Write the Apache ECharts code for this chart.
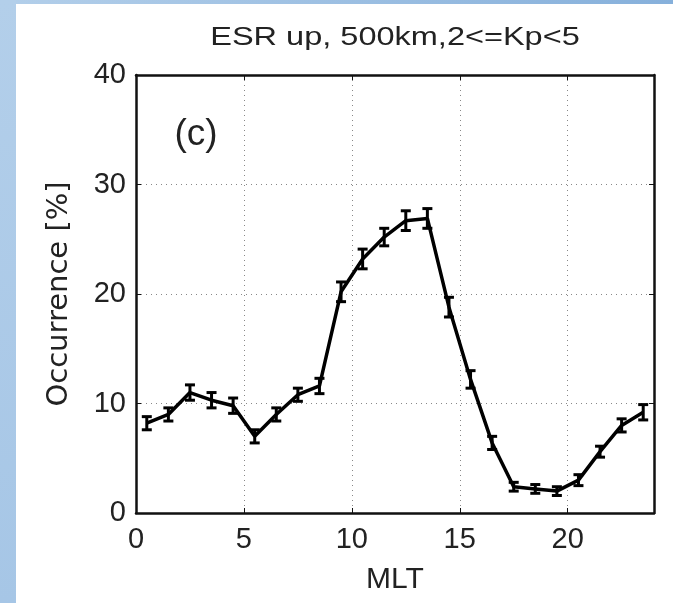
<!DOCTYPE html>
<html>
<head>
<meta charset="utf-8">
<script src="https://cdn.jsdelivr.net/npm/echarts@6/dist/echarts.min.js"></script>
<style>
  html, body { margin: 0; padding: 0; background: #fff; }
  #chart { width: 673px; height: 603px; }
</style>
</head>
<body>
<div id="chart"></div>
<script>
// MLT bins (hour centres) and occurrence values
let mltHours = [0.5, 1.5, 2.5, 3.5, 4.5, 5.5, 6.5, 7.5, 8.5, 9.5, 10.5, 11.5,
    12.5, 13.5, 14.5, 15.5, 16.5, 17.5, 18.5, 19.5, 20.5, 21.5, 22.5, 23.5];
let occurrence = [8.2, 9.0, 11.0, 10.3, 9.8, 7.0, 9.0, 10.8, 11.6, 20.2, 23.2, 25.2,
    26.7, 26.9, 18.8, 12.2, 6.4, 2.4, 2.2, 2.0, 3.0, 5.6, 8.0, 9.2];
let errBar = [0.6, 0.6, 0.7, 0.7, 0.7, 0.6, 0.6, 0.6, 0.7, 0.9, 0.9, 0.8,
    0.9, 0.9, 0.9, 0.8, 0.6, 0.4, 0.4, 0.4, 0.5, 0.5, 0.6, 0.7];
let xTicks = [0, 5, 10, 15, 20];
let yTicks = [0, 10, 20, 30, 40];

let myChart = echarts.init(document.getElementById("chart"));

let lineData = mltHours.map((h, i) => [h, occurrence[i]]);
let errData = mltHours.map((h, i) => [h, occurrence[i] - errBar[i], occurrence[i] + errBar[i]]);

let fontMain = '"Liberation Sans", Arial, sans-serif';

function renderErr(params, api) {
    let x = api.value(0);
    let lo = api.coord([x, api.value(1)]);
    let hi = api.coord([x, api.value(2)]);
    let w = 5;
    let style = { stroke: "#000", lineWidth: 3 };
    return {
        type: "group",
        children: [
            { type: "line", shape: { x1: lo[0], y1: lo[1], x2: hi[0], y2: hi[1] }, style: style },
            { type: "line", shape: { x1: lo[0] - w, y1: lo[1], x2: lo[0] + w, y2: lo[1] }, style: style },
            { type: "line", shape: { x1: hi[0] - w, y1: hi[1], x2: hi[0] + w, y2: hi[1] }, style: style },
        ],
    };
}

let gridSplit = { show: true, lineStyle: { color: "#888", type: [1, 4], width: 1 } };
let boxLine = { show: true, onZero: false, lineStyle: { color: "#111", width: 2.5 } };
let boxTick = { show: true, inside: true, length: 5, lineStyle: { color: "#111" } };

let option = {
    animation: false,
    backgroundColor: "#fff",
    textStyle: { fontFamily: fontMain },
    graphic: [
        {
            type: "rect",
            shape: { x: 0, y: 0, width: 673, height: 4 },
            style: {
                fill: new echarts.graphic.LinearGradient(0, 0, 1, 0, [
                    { offset: 0, color: "#b3cfea" },
                    { offset: 1, color: "#86b0db" },
                ]),
            },
            silent: true,
        },
        {
            type: "rect",
            shape: { x: 0, y: 0, width: 16, height: 603 },
            style: {
                fill: new echarts.graphic.LinearGradient(0, 0, 0, 1, [
                    { offset: 0, color: "#b3cfea" },
                    { offset: 1, color: "#a6c6e6" },
                ]),
            },
            silent: true,
        },
        {
            // title, drawn a bit wide like the stretched original
            type: "text",
            x: 395,
            y: 38,
            scaleX: 1.25,
            style: {
                text: "ESR up, 500km,2<=Kp<5",
                font: '26px "Liberation Sans", Arial, sans-serif',
                fill: "#222",
                align: "center",
                verticalAlign: "middle",
            },
        },
        {
            type: "text",
            x: 196,
            y: 135,
            style: {
                text: "(c)",
                font: '37px "Liberation Sans", Arial, sans-serif',
                fill: "#222",
                align: "center",
                verticalAlign: "middle",
            },
        },
    ],
    grid: { left: 136, right: 19, top: 75, bottom: 90, show: false },
    xAxis: [
        {
            type: "value",
            min: 0,
            max: 24,
            interval: 5,
            name: "MLT",
            nameLocation: "middle",
            nameGap: 52,
            nameTextStyle: { fontSize: 30, color: "#222" },
            axisLine: boxLine,
            axisTick: boxTick,
            axisLabel: { fontSize: 29, color: "#222", margin: 12, customValues: xTicks },
            splitLine: gridSplit,
        },
        {
            type: "value",
            position: "top",
            min: 0,
            max: 24,
            interval: 5,
            axisLine: boxLine,
            axisTick: boxTick,
            axisLabel: { show: false },
            splitLine: { show: false },
        },
    ],
    yAxis: [
        {
            type: "value",
            min: 0,
            max: 40,
            interval: 10,
            name: "Occurrence [%]",
            nameLocation: "middle",
            nameGap: 62,
            nameTextStyle: { fontSize: 29, color: "#222", fontFamily: '"DejaVu Sans", sans-serif' },
            axisLine: boxLine,
            axisTick: boxTick,
            axisLabel: { fontSize: 29, color: "#222", margin: 10, customValues: yTicks },
            splitLine: gridSplit,
        },
        {
            type: "value",
            position: "right",
            min: 0,
            max: 40,
            interval: 10,
            axisLine: boxLine,
            axisTick: boxTick,
            axisLabel: { show: false },
            splitLine: { show: false },
        },
    ],
    series: [
        {
            type: "line",
            data: lineData,
            symbol: "none",
            lineStyle: { color: "#000", width: 3.5 },
            z: 3,
        },
        {
            type: "custom",
            data: errData,
            renderItem: renderErr,
            z: 4,
        },
    ],
};
option && myChart.setOption(option);
</script>
</body>
</html>
